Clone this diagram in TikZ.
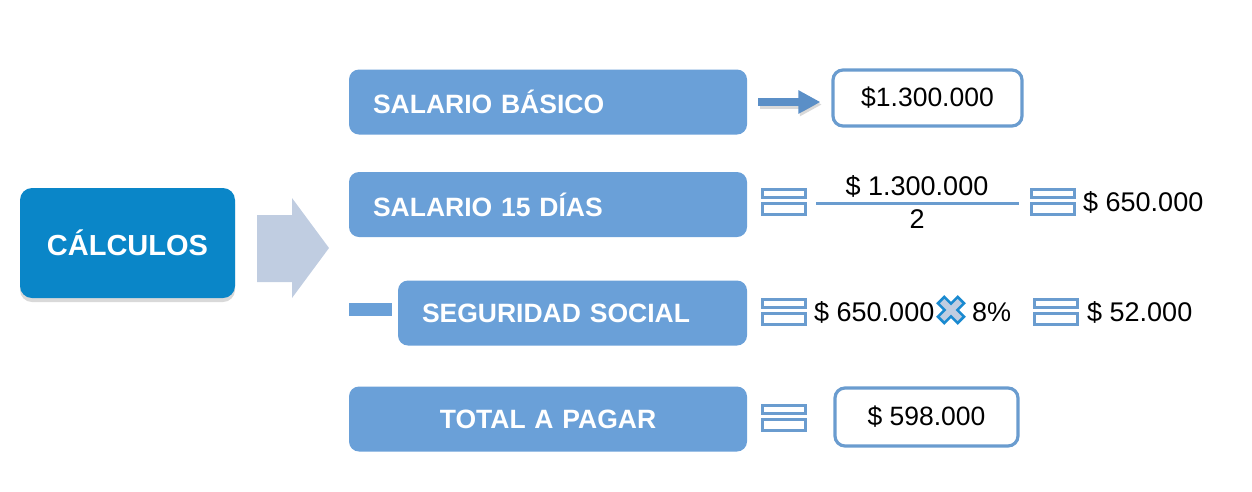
\documentclass[tikz,border=0pt]{standalone}
\usepackage{fontspec}
\setmainfont{Liberation Sans}
\usetikzlibrary{shadows,arrows.meta}
\definecolor{calc}{HTML}{0A86C8}
\definecolor{boxb}{HTML}{6AA0D8}
\definecolor{edge}{HTML}{6A9CCF}
\definecolor{chev}{HTML}{C0CDE1}
\definecolor{arr}{HTML}{5B8FC7}
\definecolor{xblue}{HTML}{1A8AD0}
\begin{document}
\begin{tikzpicture}[x=1pt,y=-1pt,
  hbox/.style={fill=boxb, rounded corners=10pt, minimum height=65pt, inner xsep=24pt,
    text=white, font=\fontsize{26.5}{31}\selectfont\bfseries},
  vbox/.style={draw=edge, line width=3.2pt, rounded corners=10pt, fill=white,
    font=\fontsize{26.5}{31}\selectfont},
  num/.style={inner sep=0pt, font=\fontsize{27}{32}\selectfont},
  eqs/.pic={\draw[edge, line width=3pt, fill=white] (-21.5,-12.5) rectangle (21.5,-4) (-21.5,2) rectangle (21.5,12.5);},
  xmark/.pic={\filldraw[draw=xblue, fill=chev, line width=2.6pt, rotate=45]
     (-4.5,-14) -- (4.5,-14) -- (4.5,-4.5) -- (14,-4.5) -- (14,4.5) -- (4.5,4.5) -- (4.5,14)
     -- (-4.5,14) -- (-4.5,4.5) -- (-14,4.5) -- (-14,-4.5) -- (-4.5,-4.5) -- cycle;}
]
\useasboundingbox (0,0) rectangle (1252,491);

% left box
\node[fill=calc, rounded corners=12pt, minimum width=215pt, minimum height=110pt,
  text=white, font=\fontsize{29}{34}\selectfont\bfseries,
  drop shadow={shadow xshift=0pt, shadow yshift=-4pt, opacity=0.3}] (calc) at (127.5,243) {CÁLCULOS};

% chevron arrow
\fill[chev] (257,215) -- (292,215) -- (292,198) -- (329,248) -- (292,298) -- (292,282) -- (257,282) -- cycle;

% header boxes
\node[hbox, text width=350pt, align=left] (b1) at (548,102) {SALARIO BÁSICO};
\node[hbox, text width=350pt, align=left] (b2) at (548,204.5) {SALARIO 15 DÍAS};
\node[hbox, text width=301pt, align=left] (b3) at (572.5,313) {SEGURIDAD SOCIAL};
\node[hbox, text width=350pt, align=center] (b4) at (548,419) {TOTAL A PAGAR};
\fill[boxb] (349,303) rectangle (392,316);

% row 1
\node[vbox, minimum width=189pt, minimum height=56pt] (v1) at (927.5,98) {\$1.300.000};
\coordinate (a1s) at ([xshift=11pt]b1.east);
\coordinate (a1e) at ([xshift=-11pt]b1.east -| v1.west);
\draw[black, opacity=0.15, line width=8pt, -{Triangle[length=22pt,width=22pt]}]
  ([xshift=1.5pt,yshift=-2.5pt]a1s) -- ([xshift=1.5pt,yshift=-2.5pt]a1e);
\draw[arr, line width=8pt, -{Triangle[length=22pt,width=22pt]}] (a1s) -- (a1e);

% row 2
\pic at (783.5,201.5) {eqs};
\node[num] (n2) at (917,186) {\$ 1.300.000};
\node[num] (d2) at (917,219) {2};
\draw[edge, line width=3pt] (816,203) -- (1019,203);
\pic at (1052.5,201.5) {eqs};
\node[num, anchor=west] (r2) at (1083,202) {\$ 650.000};

% row 3
\pic at (783.5,311.5) {eqs};
\node[num, anchor=west] (a3) at (814,312) {\$ 650.000};
\pic at (951,310) {xmark};
\node[num, anchor=west] (p3) at (972,312) {8\%};
\pic at (1056,311.5) {eqs};
\node[num, anchor=west] (r3) at (1087,312) {\$ 52.000};

% row 4
\pic at (783.5,417.5) {eqs};
\node[vbox, minimum width=183pt, minimum height=58pt] (v4) at (926.5,417) {\$ 598.000};
\end{tikzpicture}
\end{document}
